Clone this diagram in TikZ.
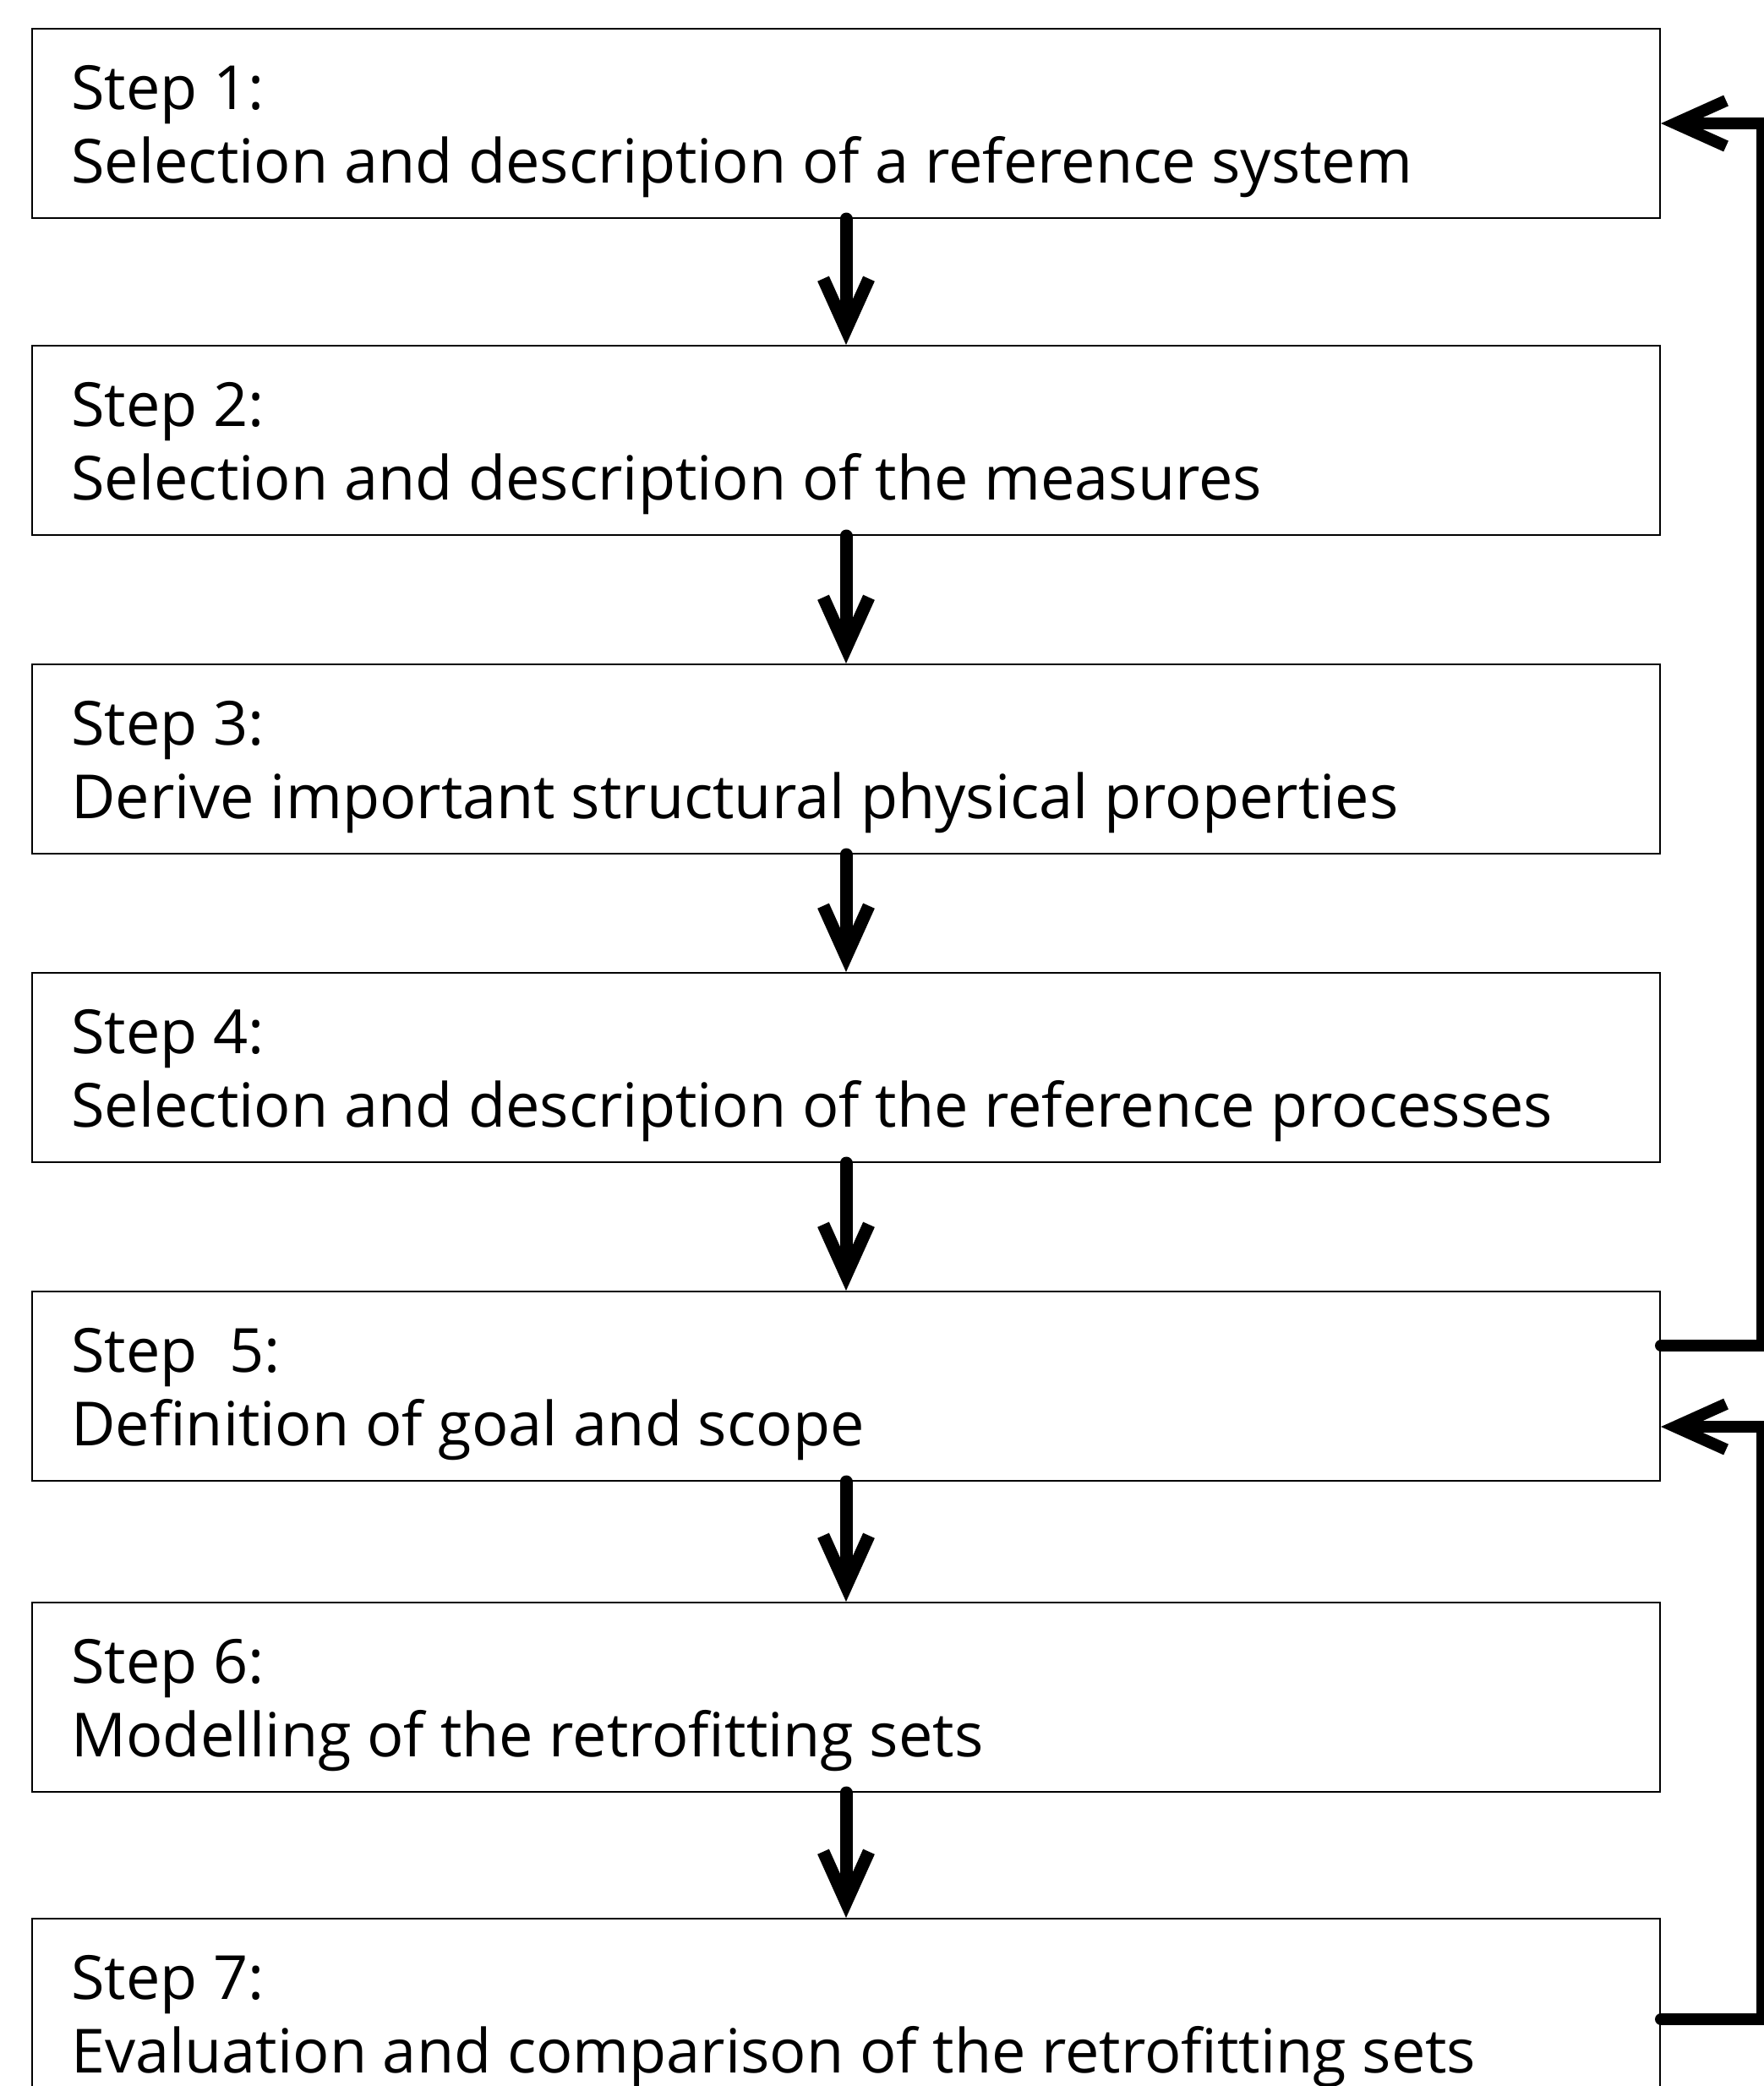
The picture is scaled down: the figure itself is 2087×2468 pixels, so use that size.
\documentclass[tikz,border=0pt]{standalone}
\usepackage{fontspec}
\setmainfont{Open Sans}
\usetikzlibrary{arrows.meta,calc}
\begin{document}
\begin{tikzpicture}[x=0.5pt,y=-0.5pt,
  boxnode/.style={draw, line width=1pt, rectangle, inner sep=0pt,
    minimum width=963pt, minimum height=112pt, anchor=north west},
  txt/.style={anchor=base west, inner sep=0pt, font=\fontsize{36}{43}\selectfont},
  flow/.style={line width=7.5pt, line cap=round,
    -{Straight Barb[length=30pt,width=27pt]}},
  fb/.style={line width=7pt, line cap=round, line join=miter,
    -{Straight Barb[length=30pt,width=27pt]}}]
\useasboundingbox (0,0) rectangle (2087,2468);
\fill[white] (0,0) rectangle (2087,2468);
\node[boxnode] (b1) at (37,33) {};
\node[boxnode] (b2) at (37,408) {};
\node[boxnode] (b3) at (37,785) {};
\node[boxnode] (b4) at (37,1150) {};
\node[boxnode] (b5) at (37,1527) {};
\node[boxnode] (b6) at (37,1895) {};
\node[boxnode] (b7) at (37,2269) {};
\foreach \b/\h/\d in {b1/{Step 1:}/{Selection and description of a reference system},
  b2/{Step 2:}/{Selection and description of the measures},
  b3/{Step 3:}/{Derive important structural physical properties},
  b4/{Step 4:}/{Selection and description of the reference processes},
  b5/{Step~~5:}/{Definition of goal and scope},
  b6/{Step 6:}/{Modelling of the retrofitting sets},
  b7/{Step 7:}/{Evaluation and comparison of the retrofitting sets}}{
  \node[txt] (\b h) at ($(\b.north west)+(47,96)$) {\h};
  \node[txt] (\b d) at ($(\b.north west)+(47,183)$) {\d};
}
\draw[flow] (b1.south) -- (b2.north);
\draw[flow] (b2.south) -- (b3.north);
\draw[flow] (b3.south) -- (b4.north);
\draw[flow] (b4.south) -- (b5.north);
\draw[flow] (b5.south) -- (b6.north);
\draw[flow] (b6.south) -- (b7.north);
\coordinate (r) at (2085,0);
\coordinate (o5) at ($(b5.east)+(0,-48)$);
\coordinate (i5) at ($(b5.east)+(0,48)$);
\coordinate (o7) at ($(b7.east)+(0,7)$);
\draw[fb] (o5) -- (o5 -| r) |- (b1.east);
\draw[fb] (o7) -- (o7 -| r) |- (i5);
\end{tikzpicture}
\end{document}
